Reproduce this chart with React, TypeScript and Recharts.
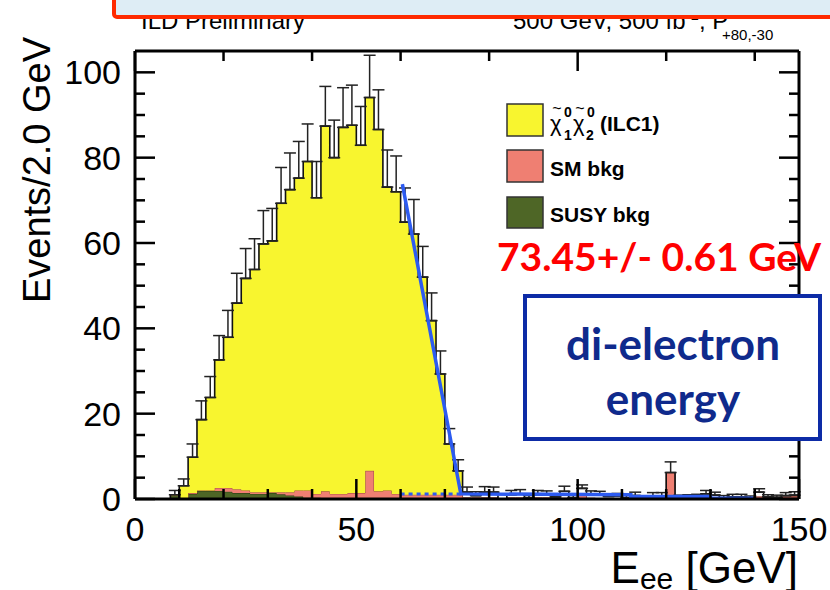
import React from "react";
import { ComposedChart, Area, Line, XAxis, YAxis, ErrorBar } from "recharts";

// 2 GeV bins, lower edges 0..148 plus the closing edge at 150
const binEdges = Array.from({ length: 76 }, (_, i) => i * 2);

// stacked MC, one value per bin (75 bins)
const susyBkg = [
  0, 0, 0, 0, 0.8, 0, 1.2, 1.9, 1.9, 1.9,
  1.7, 1.4, 1.4, 1.2, 1.2, 1.4, 1.1, 0.8, 0.6, 0.3,
  0.3, 0.2, 0.2, 0.2, 0, 0, 0, 0, 0, 0,
  0, 0, 0, 0, 0, 0, 0, 0, 0, 0,
  0, 0, 0, 0, 0, 0, 0, 0, 0, 0,
  0, 0, 0, 0, 0, 0, 0, 0, 0, 0,
  0, 0, 0, 0, 0, 0, 0, 0, 0, 0,
  0, 0, 0, 0, 0,
];
const smBkg = [
  0, 0, 0, 0, 0, 0, 0.2, 0.1, 0.1, 0.7,
  0.9, 0.9, 0.6, 0.4, 0.4, 0.2, 0.5, 0.8, 1.4, 1.7,
  0.9, 1.6, 1.0, 1.0, 1.4, 1.4, 6.6, 1.8, 2.0, 1.2,
  1.0, 1.0, 1.0, 1.0, 1.0, 1.0, 1.0, 0.3, 0.3, 0.3,
  0.3, 0, 0.3, 0.3, 0, 0.3, 0.3, 0, 0.2, 0,
  1.0, 0.2, 0, 0, 0, 0, 0, 0, 0, 0,
  6.2, 0, 0, 0, 0, 0, 0, 0, 0, 0,
  0.5, 0.4, 0.4, 0.5, 0.6,
];
const signal = [
  0, 0, 0, 0, 0.2, 3.1, 8.4, 16.6, 21.8, 30.0,
  35.3, 43.6, 49.7, 52.2, 58.2, 58.9, 67.7, 70.9, 73.2, 77.1,
  69.4, 85.6, 78.8, 85.9, 86.2, 81.5, 87.5, 84.8, 71.1, 70.8,
  63.9, 61.1, 51.0, 40.8, 28.3, 11.9, 5.6, 0, 0, 0,
  0, 0, 0, 0, 0, 0, 0, 0, 0, 0,
  0, 0, 0, 0, 0, 0, 0, 0, 0, 0,
  0, 0, 0, 0, 0, 0, 0, 0, 0, 0,
  0, 0, 0, 0, 0,
];
// pseudo-data with upward stat. errors
const observed = [
  0, 0, 0, 0, 1.0, 3.1, 9.8, 18.6, 23.8, 32.6,
  37.9, 45.9, 51.7, 53.8, 59.8, 60.5, 69.3, 72.5, 75.2, 79.1,
  70.6, 87.4, 80.0, 87.1, 87.6, 82.9, 94.1, 86.6, 73.1, 72.0,
  64.9, 62.1, 52.0, 41.8, 29.3, 12.9, 6.6, 1.6, 0.8, 1.6,
  1.6, 0, 1.0, 1.2, 0.3, 1.0, 0.9, 0.5, 1.8, 0.3,
  2.5, 1.0, 0.9, 0.6, 0.7, 0.3, 0.8, 0, 0.7, 0.7,
  6.2, 0.5, 0.5, 0.6, 1.2, 0.9, 0.3, 0.5, 0.5, 0.3,
  1.6, 0.5, 0.4, 0.8, 0.9,
];
const observedErr = [
  0, 0, 0, 0, 1.0, 1.6, 3.1, 4.4, 4.9, 5.7,
  6.3, 7.0, 7.0, 7.2, 7.8, 7.6, 8.4, 8.6, 8.6, 8.8,
  8.5, 9.3, 8.8, 9.3, 9.4, 9.1, 9.9, 9.3, 8.7, 8.4,
  8.0, 8.1, 7.2, 6.5, 5.4, 3.6, 2.6, 1.2, 0.9, 1.3,
  1.2, 0, 1.0, 1.0, 0.5, 1.0, 1.0, 0.7, 1.2, 0.5,
  0.8, 0.9, 0.9, 0.6, 0.6, 0.5, 0.8, 0, 0.8, 0.8,
  2.5, 0.4, 0.5, 0.5, 0.8, 0.7, 0.5, 0.6, 0.6, 0.4,
  0.8, 0.5, 0.5, 0.7, 0.8,
];

// endpoint fit (blue)
const fitX = [60.4, 73.6, 112, 112, 130, 130, 139.7];
const fitY = [73.8, 1.2, 1.0, 0.6, 0.6, 0.2, 0.2];
const bkgFitX = [60, 73.6];
const bkgFitY = [1.2, 1.2];

const xTicks = [0, 10, 20, 30, 40, 50, 60, 70, 80, 90, 100, 110, 120, 130, 140, 150];
const yTicks = [0, 5, 10, 15, 20, 25, 30, 35, 40, 45, 50, 55, 60, 65, 70, 75, 80, 85, 90, 95, 100];

const rows = binEdges.map((x, i) => {
  const k = Math.min(i, 74);
  return { x, susy: susyBkg[k], sm: smBkg[k], sig: signal[k], obs: observed[k] };
});
const errPoints = observed
  .map((y, i) => ({ x: binEdges[i] + 1, y, err: [0, observedErr[i]] }))
  .filter((p) => p.y > 0 && p.err[1] > 0);
const fitLine = fitX.map((x, i) => ({ x, fit: fitY[i] }));
const bkgLine = bkgFitX.map((x, i) => ({ x, bkg: bkgFitY[i] }));

const FONT = "'Liberation Sans', Arial, Helvetica, sans-serif";
const LATO = "Lato, 'Open Sans', sans-serif";

function BottomTick({ x, y, payload }: any) {
  const major = payload.value % 50 === 0;
  return (
    <g>
      <line x1={x} x2={x} y1={y} y2={y - (major ? 20 : 10)} stroke="#000" strokeWidth={2.5} />
      {major && (
        <text x={x} y={y + 42} textAnchor="middle" fontSize={34} fontFamily={FONT} fill="#000">
          {payload.value}
        </text>
      )}
    </g>
  );
}

function TopTick({ x, y, payload }: any) {
  const major = payload.value % 50 === 0;
  return <line x1={x} x2={x} y1={y} y2={y + (major ? 20 : 10)} stroke="#000" strokeWidth={2.5} />;
}

function LeftTick({ x, y, payload }: any) {
  const major = payload.value % 20 === 0;
  return (
    <g>
      <line x1={x} x2={x + (major ? 20 : 10)} y1={y} y2={y} stroke="#000" strokeWidth={2.5} />
      {major && (
        <text x={x - 14} y={y + 12} textAnchor="end" fontSize={34} fontFamily={FONT} fill="#000">
          {payload.value}
        </text>
      )}
    </g>
  );
}

function RightTick({ x, y, payload }: any) {
  const major = payload.value % 20 === 0;
  return <line x1={x} x2={x - (major ? 20 : 10)} y1={y} y2={y} stroke="#000" strokeWidth={2.5} />;
}

export default function App() {
  const frame = { stroke: "#000", strokeWidth: 3 };
  return (
    <div style={{ position: "absolute", left: 0, top: 0, width: 830, height: 590, background: "#fff", overflow: "hidden" }}>
      <ComposedChart
        width={830}
        height={590}
        data={rows}
        margin={{ top: 50, right: 30, bottom: 90, left: 134 }}
      >
        <Area
          dataKey="susy"
          stackId="mc"
          type="stepAfter"
          fill="#4e6626"
          fillOpacity={1}
          stroke="#2a3312"
          strokeWidth={1}
          isAnimationActive={false}
        />
        <Area
          dataKey="sm"
          stackId="mc"
          type="stepAfter"
          fill="#ef7f72"
          fillOpacity={1}
          stroke="#9a4a3c"
          strokeWidth={1}
          isAnimationActive={false}
        />
        <Area
          dataKey="sig"
          stackId="mc"
          type="stepAfter"
          fill="#f8f52f"
          fillOpacity={1}
          stroke="none"
          isAnimationActive={false}
        />
        <Line
          dataKey="obs"
          type="stepAfter"
          stroke="#111"
          strokeWidth={1.6}
          dot={false}
          isAnimationActive={false}
        />
        <Line
          data={errPoints}
          dataKey="y"
          stroke="none"
          dot={false}
          isAnimationActive={false}
        >
          <ErrorBar dataKey="err" direction="y" width={6} stroke="#222" strokeWidth={1.5} />
        </Line>
        <Line
          data={bkgLine}
          dataKey="bkg"
          type="linear"
          stroke="#2d5bf0"
          strokeWidth={3}
          strokeDasharray="4 4"
          dot={false}
          isAnimationActive={false}
        />
        <Line
          data={fitLine}
          dataKey="fit"
          type="linear"
          stroke="#2d5bf0"
          strokeWidth={3.5}
          dot={false}
          isAnimationActive={false}
        />
        <XAxis
          dataKey="x"
          type="number"
          domain={[0, 150]}
          ticks={xTicks}
          interval={0}
          height={1}
          tickSize={0}
          tickMargin={0}
          tickLine={false}
          axisLine={frame}
          tick={(p: any) => <BottomTick {...p} />}
          allowDataOverflow
        />
        <XAxis
          xAxisId="top"
          orientation="top"
          type="number"
          domain={[0, 150]}
          ticks={xTicks}
          interval={0}
          height={1}
          tickSize={0}
          tickMargin={0}
          tickLine={false}
          axisLine={frame}
          tick={(p: any) => <TopTick {...p} />}
          allowDataOverflow
        />
        <YAxis
          type="number"
          domain={[0, 105]}
          ticks={yTicks}
          interval={0}
          width={1}
          tickSize={0}
          tickMargin={0}
          tickLine={false}
          axisLine={frame}
          tick={(p: any) => <LeftTick {...p} />}
          allowDataOverflow
        />
        <YAxis
          yAxisId="right"
          orientation="right"
          type="number"
          domain={[0, 105]}
          ticks={yTicks}
          interval={0}
          width={1}
          tickSize={0}
          tickMargin={0}
          tickLine={false}
          axisLine={frame}
          tick={(p: any) => <RightTick {...p} />}
          allowDataOverflow
        />
      </ComposedChart>

      <svg
        width={830}
        height={590}
        style={{ position: "absolute", left: 0, top: 0, pointerEvents: "none" }}
      >
        {/* header, partly hidden under the slide box */}
        <text x={141} y={29} fontSize={24} fontFamily={FONT} fill="#000">
          ILD Preliminary
        </text>
        <text x={513} y={29} fontSize={24} fontFamily={FONT} fill="#000">
          500 GeV, 500 fb
          <tspan dy={-9} fontSize={15}>-1</tspan>
          <tspan dy={9}>, P</tspan>
        </text>
        <text x={722} y={40} fontSize={15} fontFamily={FONT} fill="#000">
          +80,-30
        </text>
        <rect x={114} y={-6} width={730} height={23} rx={3} fill="#deedf5" stroke="#ff2a00" strokeWidth={4} />

        {/* axis titles */}
        <text
          transform="translate(50,170) rotate(-90)"
          textAnchor="middle"
          fontSize={38}
          fontFamily={FONT}
          fill="#000"
        >
          Events/2.0 GeV
        </text>
        <text x={798} y={583} textAnchor="end" fontSize={44} fontFamily={FONT} fill="#000">
          E<tspan dy={6} fontSize={30}>ee</tspan>
          <tspan dy={-6}> [GeV]</tspan>
        </text>

        {/* legend */}
        <rect x={507} y={104} width={36} height={32} fill="#f8f52f" stroke="#333" strokeWidth={1.5} />
        <rect x={507} y={150} width={36} height={32} fill="#ef7f72" stroke="#333" strokeWidth={1.5} />
        <rect x={507} y={197} width={36} height={31} fill="#4e6626" stroke="#333" strokeWidth={1.5} />
        <g fontFamily={FONT} fill="#000">
          <text x={557} y={114} fontSize={16} textAnchor="middle">~</text>
          <text x={550} y={131} fontSize={22}>χ</text>
          <text x={564} y={117} fontSize={14} fontWeight={700}>0</text>
          <text x={564} y={140} fontSize={14} fontWeight={700}>1</text>
          <text x={580} y={114} fontSize={16} textAnchor="middle">~</text>
          <text x={573} y={131} fontSize={22}>χ</text>
          <text x={587} y={117} fontSize={14} fontWeight={700}>0</text>
          <text x={586} y={140} fontSize={14} fontWeight={700}>2</text>
          <text x={600} y={131} fontSize={21} fontWeight={700}>(ILC1)</text>
          <text x={550} y={176} fontSize={21} fontWeight={700}>SM bkg</text>
          <text x={550} y={222} fontSize={21} fontWeight={700}>SUSY bkg</text>
        </g>

        {/* fit result */}
        <text x={497} y={271} fontSize={39} fontWeight={700} fontFamily={LATO} fill="#ff0000">
          73.45+/- 0.61 GeV
        </text>

        {/* annotation box */}
        <rect x={525} y={296} width={295} height={143} fill="#fff" stroke="#0d2ba6" strokeWidth={4} />
        <text x={673} y={360} textAnchor="middle" fontSize={44} fontWeight={700} fontFamily={LATO} fill="#0f2a8c">
          di-electron
        </text>
        <text x={673} y={415} textAnchor="middle" fontSize={44} fontWeight={700} fontFamily={LATO} fill="#0f2a8c">
          energy
        </text>
      </svg>
    </div>
  );
}
